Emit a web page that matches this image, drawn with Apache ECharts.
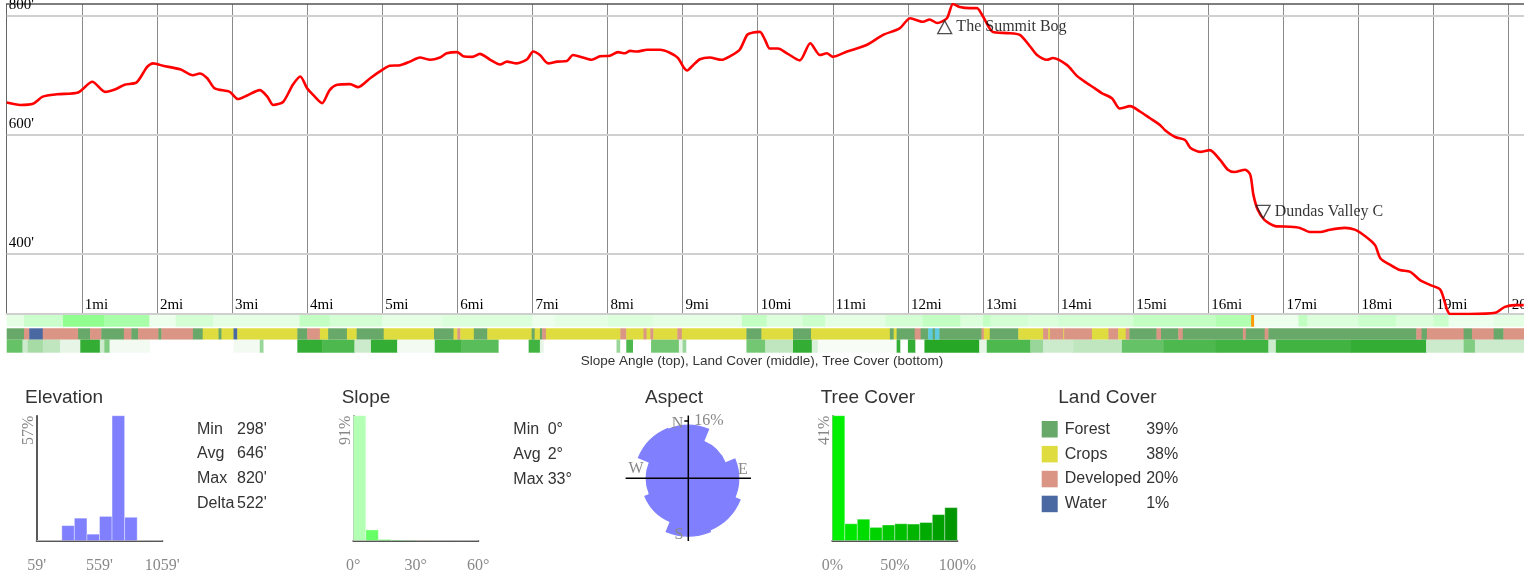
<!DOCTYPE html>
<html><head><meta charset="utf-8">
<script src="https://cdn.jsdelivr.net/npm/echarts@6/dist/echarts.min.js"></script>
<style>html,body{margin:0;padding:0;background:#fff;overflow:hidden}#c{width:1524px;height:576px}</style>
</head><body><div id="c"></div>
<script>
// ---------------- DATA ----------------
const elevMiles = [0.00,0.18,0.35,0.48,0.67,0.95,1.14,1.31,1.44,1.57,1.73,1.87,1.95,2.08,2.31,2.48,2.57,2.67,2.77,2.97,3.08,3.20,3.37,3.47,3.55,3.68,3.81,3.91,4.00,4.08,4.20,4.30,4.40,4.57,4.68,4.84,5.00,5.10,5.24,5.37,5.50,5.64,5.77,5.86,6.00,6.08,6.20,6.30,6.44,6.57,6.66,6.79,6.93,7.01,7.10,7.21,7.33,7.46,7.54,7.67,7.79,7.90,8.03,8.14,8.23,8.30,8.39,8.53,8.70,8.83,8.94,9.01,9.06,9.14,9.23,9.36,9.52,9.63,9.76,9.86,9.94,10.03,10.10,10.16,10.27,10.39,10.56,10.70,10.83,10.92,11.00,11.19,11.45,11.67,11.89,12.03,12.20,12.29,12.39,12.52,12.60,12.69,12.83,12.92,13.00,13.13,13.32,13.49,13.63,13.72,13.85,13.93,14.12,14.25,14.38,14.49,14.58,14.72,14.82,14.96,15.09,15.22,15.36,15.42,15.56,15.69,15.76,15.89,16.02,16.16,16.26,16.35,16.49,16.56,16.60,16.66,16.75,16.89,17.09,17.22,17.35,17.49,17.62,17.82,17.95,18.09,18.22,18.29,18.42,18.55,18.69,18.82,18.95,19.09,19.18,19.22,19.48,19.82,19.95,20.08,20.20];
const elevFeet = [654,650,652,664,668,671,689,672,676,684,688,714,720,716,710,700,703,695,678,672,660,666,675,664,650,655,684,698,678,667,653,675,684,685,680,695,709,716,717,723,730,726,730,737,739,732,731,736,726,718,723,720,727,740,734,720,723,724,734,730,726,732,733,739,737,741,740,743,743,738,729,714,708,717,727,730,726,732,743,768,772,773,759,745,745,737,725,754,734,737,731,740,751,768,779,796,790,794,788,796,820,815,813,813,799,773,771,768,748,734,726,729,717,699,687,678,670,661,644,648,639,628,616,608,596,591,578,571,574,557,541,537,541,532,499,473,456,446,445,443,436,436,440,443,440,429,414,392,381,372,369,355,347,339,305,298,298,300,310,313,313];
const elevTicks = [400,600,800];
const mileTicks = [1,2,3,4,5,6,7,8,9,10,11,12,13,14,15,16,17,18,19,20];

const waypointNames = ['The Summit Bog','Dundas Valley C'];
const waypointMiles = [12.49,16.73];
const waypointFeet = [781,470];
const waypointUp = [true,false];

// land cover strip: [startMile, endMile, classIndex]
const landClasses = ['Forest','Crops','Developed','Water','Wetlands'];
const landPct = [39,38,20,1];
const landSegments = [[0,0.23,0],[0.23,0.30,2],[0.30,0.48,3],[0.48,0.95,2],[0.95,1.11,0],[1.11,1.26,2],[1.26,1.56,0],[1.56,1.66,2],[1.66,1.75,0],[1.75,2.02,2],[2.02,2.06,0],[2.06,2.48,2],[2.48,2.61,0],[2.61,2.82,1],[2.82,2.86,0],[2.86,3.02,1],[3.02,3.07,3],[3.07,3.87,1],[3.87,4.00,0],[4.00,4.17,2],[4.17,4.28,1],[4.28,4.53,0],[4.53,4.66,1],[4.66,5.02,0],[5.02,5.69,1],[5.69,5.95,0],[5.95,6.00,1],[6.00,6.04,2],[6.04,6.22,1],[6.22,6.40,0],[6.40,6.99,1],[6.99,7.03,0],[7.03,7.10,1],[7.10,7.13,0],[7.13,7.18,2],[7.18,8.17,1],[8.17,8.25,2],[8.25,8.48,1],[8.48,8.52,2],[8.52,8.57,1],[8.57,8.61,2],[8.61,8.93,1],[8.93,8.99,2],[8.99,9.85,1],[9.85,10.05,0],[10.05,10.47,1],[10.47,10.71,0],[10.71,11.76,1],[11.76,11.81,0],[11.81,11.85,1],[11.85,12.09,0],[12.09,12.17,2],[12.17,12.27,0],[12.27,12.33,4],[12.33,12.36,0],[12.36,12.42,4],[12.42,12.98,0],[12.98,13.01,2],[13.01,13.09,1],[13.09,13.47,0],[13.47,13.80,1],[13.80,13.87,2],[13.87,13.89,1],[13.89,14.07,2],[14.07,14.08,1],[14.08,14.45,2],[14.45,14.67,1],[14.67,14.80,2],[14.80,14.90,1],[14.90,14.95,2],[14.95,15.31,0],[15.31,15.37,2],[15.37,15.60,0],[15.60,15.66,2],[15.66,16.46,0],[16.46,16.50,2],[16.50,16.75,0],[16.75,16.80,2],[16.80,18.77,0],[18.77,18.84,2],[18.84,18.91,0],[18.91,19.40,2],[19.40,19.51,0],[19.51,19.80,2],[19.80,19.93,0],[19.93,20.5,2]];

// slope strip: [startMile, endMile, degrees]
const slopeSegments = [[0,0.23,1],[0.23,0.75,2.5],[0.75,1.30,6],[1.30,1.90,4.5],[1.90,2.25,0.5],[2.25,2.75,2],[2.75,3.90,1],[3.90,4.30,3],[4.30,5.00,2],[5.00,5.80,1],[5.80,7.00,1.5],[7.00,7.30,0.5],[7.30,8.00,1],[8.00,8.60,1.5],[8.60,9.79,1],[9.79,10.12,3],[10.12,10.60,1.5],[10.60,10.90,2.5],[10.90,11.70,1],[11.70,12.20,2],[12.20,12.70,3],[12.70,13.00,1.5],[13.00,13.10,3],[13.10,13.60,2],[13.60,14.00,1.5],[14.00,15.00,2],[15.00,16.10,3],[16.10,16.57,4],[16.57,16.61,33],[16.61,17.20,0.5],[17.20,17.32,3],[17.32,18.00,1.5],[18.00,18.50,2.5],[18.50,19.00,1.5],[19.00,19.20,2.5],[19.20,19.80,0.5],[19.80,20.5,1]];

// tree cover strip: [startMile, endMile, percent]
const treeSegments = [[0,0.21,60],[0.21,0.28,20],[0.28,0.48,35],[0.48,0.71,25],[0.71,0.98,10],[0.98,1.24,80],[1.24,1.30,20],[1.30,1.37,50],[1.37,1.91,5],[1.91,3.02,0],[3.02,3.37,5],[3.37,3.42,40],[3.42,3.87,0],[3.87,4.20,80],[4.20,4.63,70],[4.63,4.85,20],[4.85,5.20,80],[5.20,5.70,5],[5.70,6.05,75],[6.05,6.55,65],[6.55,6.95,0],[6.95,7.10,75],[7.10,7.15,10],[7.15,8.12,0],[8.12,8.17,40],[8.17,8.25,0],[8.25,8.34,70],[8.34,8.58,0],[8.58,8.95,55],[8.95,9.00,10],[9.00,9.05,40],[9.05,9.85,0],[9.85,10.10,55],[10.10,10.47,25],[10.47,10.72,80],[10.72,10.80,15],[10.80,11.85,3],[11.85,11.90,80],[11.90,12.00,0],[12.00,12.10,80],[12.10,12.22,0],[12.22,12.95,85],[12.95,13.05,10],[13.05,13.63,70],[13.63,13.80,40],[13.80,14.20,20],[14.20,14.85,25],[14.85,15.40,60],[15.40,16.10,70],[16.10,16.80,75],[16.80,16.90,20],[16.90,17.90,75],[17.90,18.90,80],[18.90,19.40,20],[19.40,19.55,50],[19.55,20.5,20]];

// histograms
const elevBinStart = [59,159,259,359,459,559,659,759,859,959];
const elevBinEnd   = [159,259,359,459,559,659,759,859,959,1059];
const elevBinPct   = [0,0,6.8,10.2,2.9,11.0,57,10.6,0,0];
const elevHistTicks = [59,559,1059];
const elevHistMax = 57;
const elevStats = [['Min',"298'"],['Avg',"646'"],['Max',"820'"],['Delta',"522'"]];

const slopeBinStart = [0,6,12,18,24,30,36,42,48,54];
const slopeBinEnd   = [6,12,18,24,30,36,42,48,54,60];
const slopeBinPct   = [91,7.7,0.6,0.3,0.2,0.1,0,0,0,0];
const slopeHistTicks = [0,30,60];
const slopeHistMax = 91;
const slopeStats = [['Min','0°'],['Avg','2°'],['Max','33°']];

const aspectDirs = ['N','NE','E','SE','S','SW','W','NW'];
const aspectPct  = [13.5,7.7,12.2,15.1,16,10.6,8.5,14.0];
const aspectMaxLabel = 16;
const compassLabels = ['N','E','S','W'];

const treeBinStart = [0,10,20,30,40,50,60,70,80,90];
const treeBinEnd   = [10,20,30,40,50,60,70,80,90,100];
const treeBinPct   = [41,5.5,7,4.3,5.1,5.5,5.4,5.9,8.5,10.8];
const treeHistTicks = [0,50,100];
const treeHistMax = 41;

const caption = 'Slope Angle (top), Land Cover (middle), Tree Cover (bottom)';
const panelTitles = ['Elevation','Slope','Aspect','Tree Cover','Land Cover'];

// ---------------- STYLE ----------------
const SERIF = "'Liberation Serif','Times New Roman',serif";
const SANS = "'Liberation Sans',Arial,sans-serif";
const landColors = ['#68a868','#dedc3e','#da9584','#4a68a2','#5ccbe0'];
const X0 = 6.7, PXMI = 75.1, XMAX = 20.5, GW = PXMI * XMAX;

function hexToRgb(h){h=h.replace('#','');return [parseInt(h.substr(0,2),16),parseInt(h.substr(2,2),16),parseInt(h.substr(4,2),16)];}
function mix(a,b,t){const A=hexToRgb(a),B=hexToRgb(b);return 'rgb('+A.map((v,i)=>Math.round(v+(B[i]-v)*t)).join(',')+')';}
function slopeColor(v){return v>=20?'#ff9a00':mix('#ffffff','#66ff66',Math.min(0.06+v/9,1));}
function treeColor(v){return mix('#ffffff','#009900',Math.min(v/100,1));}

function stripRender(colorFn){
  return function(params, api){
    const a = api.coord([api.value(0), 0]);
    const b = api.coord([api.value(1), 1]);
    return {type:'rect', shape:{x:a[0], y:b[1], width:b[0]-a[0]+0.4, height:a[1]-b[1]}, style:{fill:colorFn(api.value(2))}};
  };
}
function histRender(colors){
  return function(params, api){
    const a = api.coord([api.value(0), 0]);
    const b = api.coord([api.value(1), api.value(2)]);
    return {type:'rect', shape:{x:a[0], y:b[1], width:b[0]-a[0], height:a[1]-b[1]},
      style:{fill:colors[params.dataIndex], stroke:'rgba(255,255,255,0.35)', lineWidth:1}};
  };
}
const treeHistColors = treeBinStart.map((s,i)=>'rgb(0,'+(240-i*10)+',0)');
const slopeHistColors = ['#b3ffb3','#66ff66','#22ee22','#00cc00','#00aa00','#ff9a00','#ff6600','#ff3300','#ff0000','#cc0000'];
const elevHistColors = elevBinStart.map(()=> '#8080ff');

const hiddenX = (g)=>({gridIndex:g, type:'value', min:0, max:XMAX, show:false});
const hiddenY = (g)=>({gridIndex:g, type:'value', min:0, max:1, show:false});
function histX(g, mn, mx, ticks, fmt){
  return {gridIndex:g, type:'value', min:mn, max:mx,
    axisLine:{show:true, onZero:false, lineStyle:{color:'#555', width:2}}, axisTick:{show:false}, splitLine:{show:false},
    axisLabel:{customValues:ticks, formatter:fmt, color:'#888', fontFamily:SERIF, fontSize:16, margin:17, hideOverlap:false}};
}
function histY(g, mx){
  return {gridIndex:g, type:'value', min:0, max:mx,
    axisLine:{show:true, onZero:false, lineStyle:{color:'#222', width:1.5}}, axisTick:{show:false}, splitLine:{show:false},
    axisLabel:{customValues:[mx], rotate:90, formatter:'{value}%', align:'right', verticalAlign:'bottom', margin:0, color:'#888', fontFamily:SERIF, fontSize:16}};
}

const titlePos = [[25,388],[341.7,388],[645,388],[820.7,388],[1058.3,388]];
const titles = panelTitles.map((t,i)=>({text:t, left:titlePos[i][0], top:titlePos[i][1], padding:0,
  textStyle:{fontSize:19, fontWeight:'normal', color:'#333', fontFamily:SANS}}));
titles.push({text:caption, left:'center', top:354, padding:0, textStyle:{fontSize:13.5, fontWeight:'normal', color:'#333', fontFamily:SANS}});

const graphics = [];
elevStats.forEach((r,i)=>{
  graphics.push({type:'text', x:197, y:429.3+i*24.7, style:{text:r[0], font:'16px '+SANS, fill:'#333', textVerticalAlign:'middle', verticalAlign:'middle'}});
  graphics.push({type:'text', x:237, y:429.3+i*24.7, style:{text:r[1], font:'16px '+SANS, fill:'#333', textVerticalAlign:'middle', verticalAlign:'middle'}});
});
slopeStats.forEach((r,i)=>{
  graphics.push({type:'text', x:513.3, y:429.8+i*24.7, style:{text:r[0], font:'16px '+SANS, fill:'#333', textVerticalAlign:'middle', verticalAlign:'middle'}});
  graphics.push({type:'text', x:547.7, y:429.8+i*24.7, style:{text:r[1], font:'16px '+SANS, fill:'#333', textVerticalAlign:'middle', verticalAlign:'middle'}});
});
const compassPos = [[677.5,423.3],[743,470],[679,535],[636,469]];
compassLabels.forEach((t,i)=>{
  graphics.push({type:'text', x:compassPos[i][0], y:compassPos[i][1], z:100, style:{text:t, font:'16px '+SERIF, fill:'#888', textAlign:'center', align:'center', textVerticalAlign:'middle', verticalAlign:'middle'}});
});

const aspectRmax = Math.sqrt(aspectMaxLabel) * 62.7 / 57.7;

const option = {
  animation:false,
  backgroundColor:'#fff',
  title: titles,
  graphic: {elements: graphics},
  legend: {
    data: landClasses.slice(0,4), orient:'vertical', left:1041.7, top:421, padding:0,
    itemWidth:16, itemHeight:16.5, itemGap:8.4, icon:'rect', selectedMode:false,
    formatter: name => '{n|'+name+'}{p|'+landPct[landClasses.indexOf(name)]+'%}',
    textStyle:{fontSize:16, color:'#333', fontFamily:SANS, padding:[0,0,0,2],
      rich:{n:{width:81.5, fontSize:16, color:'#333', fontFamily:SANS}, p:{fontSize:16, color:'#333', fontFamily:SANS}}}
  },
  grid: [
    {left:X0, top:4, width:GW, height:310, containLabel:false, outerBoundsMode:'none'},
    {left:X0, top:315, width:GW, height:11.7, containLabel:false, outerBoundsMode:'none'},
    {left:X0, top:328.3, width:GW, height:11.4, containLabel:false, outerBoundsMode:'none'},
    {left:X0, top:339.7, width:GW, height:13, containLabel:false, outerBoundsMode:'none'},
    {left:36.7, top:415.7, width:125.6, height:124.8, containLabel:false, outerBoundsMode:'none'},
    {left:353.3, top:415.7, width:125, height:124.8, containLabel:false, outerBoundsMode:'none'},
    {left:832.3, top:415.7, width:125, height:124.8, containLabel:false, outerBoundsMode:'none'}
  ],
  polar: [
    {center:[688.3,478.3], radius:62.7},
    {center:[688.3,478.3], radius:62.7}
  ],
  angleAxis: [
    {polarIndex:0, type:'category', data:aspectDirs, startAngle:112.5, boundaryGap:true,
      axisLine:{show:false}, axisTick:{show:false}, axisLabel:{show:false}, splitLine:{show:false}, splitArea:{show:false}},
    {polarIndex:1, type:'value', min:0, max:360, interval:90, startAngle:90, z:10,
      axisLine:{show:false}, axisTick:{show:false}, axisLabel:{show:false}, splitArea:{show:false},
      splitLine:{show:true, lineStyle:{color:'#000', width:1.5}}}
  ],
  radiusAxis: [
    {polarIndex:0, type:'value', min:0, max:aspectRmax, show:false},
    {polarIndex:1, type:'value', min:0, max:aspectRmax, z:10,
      axisLine:{show:false}, splitLine:{show:false}, splitArea:{show:false},
      axisTick:{show:true, customValues:[Math.sqrt(aspectMaxLabel)], length:4, lineStyle:{color:'#000', width:1.5}},
      axisLabel:{customValues:[Math.sqrt(aspectMaxLabel)], formatter: v => Math.round(v*v)+'%', align:'left', margin:-6, color:'#888', fontFamily:SERIF, fontSize:16}}
  ],
  xAxis: [
    {gridIndex:0, type:'value', min:0, max:XMAX, interval:1, position:'bottom',
      axisLine:{show:true, onZero:false, lineStyle:{color:'#cfcfcf', width:2}}, axisTick:{show:false},
      splitLine:{show:true, lineStyle:{color:'#8a8a8a', width:1}},
      axisLabel:{inside:true, align:'left', verticalAlign:'bottom', margin:1, padding:[0,0,0,3], hideOverlap:false,
        color:'#000', fontFamily:SERIF, fontSize:15, formatter: v => mileTicks.indexOf(v) >= 0 ? v+'mi' : ''}},
    {gridIndex:0, type:'value', min:0, max:XMAX, position:'top',
      axisLine:{show:true, onZero:false, lineStyle:{color:'#555', width:1.5}}, axisTick:{show:false}, axisLabel:{show:false}, splitLine:{show:false}},
    hiddenX(1), hiddenX(2), hiddenX(3),
    histX(4, 59, 1059, elevHistTicks, v => v+"'"),
    histX(5, 0, 60, slopeHistTicks, v => v+'°'),
    histX(6, 0, 100, treeHistTicks, v => v+'%')
  ],
  yAxis: [
    {gridIndex:0, type:'value', min:298, max:820,
      axisLine:{show:true, onZero:false, lineStyle:{color:'#666', width:1}}, axisTick:{show:false}, axisLabel:{show:false}, splitLine:{show:false}},
    hiddenY(1), hiddenY(2), hiddenY(3),
    histY(4, elevHistMax), histY(5, slopeHistMax), histY(6, treeHistMax)
  ],
  series: [
    {type:'line', name:'grid', xAxisIndex:0, yAxisIndex:0, data:[], silent:true, z:1,
      markLine:{silent:true, symbol:'none', z:1, animation:false,
        lineStyle:{color:'#d0d0d0', width:2, type:'solid'},
        label:{position:'insideStartTop', distance:[2,3], formatter: p => p.value+"'", color:'#000', fontFamily:SERIF, fontSize:15},
        data: elevTicks.map(v=>({yAxis:v}))}},
    {type:'line', name:'elevation', xAxisIndex:0, yAxisIndex:0, z:5,
      data: elevMiles.map((m,i)=>[m, elevFeet[i]]), smooth:0.25, showSymbol:false, symbol:'none',
      lineStyle:{color:'#ff0000', width:2.6}},
    {type:'scatter', name:'waypoints', xAxisIndex:0, yAxisIndex:0, z:6,
      data: waypointNames.map((n,i)=>({name:n, value:[waypointMiles[i], waypointFeet[i]], symbolRotate: waypointUp[i]?0:180})),
      symbol:'triangle', symbolSize:[14,13],
      itemStyle:{color:'rgba(255,255,255,0)', borderColor:'#222', borderWidth:1.3},
      label:{show:true, position:'right', distance:4, formatter:'{b}', color:'#000', fontFamily:SERIF, fontSize:16}},
    {type:'custom', name:'slope', xAxisIndex:2, yAxisIndex:1, data:slopeSegments, renderItem:stripRender(slopeColor), silent:true},
    {type:'custom', name:'land', xAxisIndex:3, yAxisIndex:2, data:landSegments, renderItem:stripRender(v=>landColors[v]), silent:true},
    {type:'custom', name:'tree', xAxisIndex:4, yAxisIndex:3, data:treeSegments, renderItem:stripRender(treeColor), silent:true},
    {type:'custom', name:'elevHist', xAxisIndex:5, yAxisIndex:4, data:elevBinStart.map((s,i)=>[s,elevBinEnd[i],elevBinPct[i]]), renderItem:histRender(elevHistColors), silent:true},
    {type:'custom', name:'slopeHist', xAxisIndex:6, yAxisIndex:5, data:slopeBinStart.map((s,i)=>[s,slopeBinEnd[i],slopeBinPct[i]]), renderItem:histRender(slopeHistColors), silent:true},
    {type:'custom', name:'treeHist', xAxisIndex:7, yAxisIndex:6, data:treeBinStart.map((s,i)=>[s,treeBinEnd[i],treeBinPct[i]]), renderItem:histRender(treeHistColors), silent:true},
    {type:'bar', name:'aspect', coordinateSystem:'polar', polarIndex:0, data: aspectPct.map(p=>Math.sqrt(p)),
      barCategoryGap:'0%', barWidth:'100%', itemStyle:{color:'#8080ff', borderColor:'#8080ff', borderWidth:1.2, borderRadius:0}, z:2, silent:true},
    ...landClasses.slice(0,4).map((n,i)=>({type:'bar', name:n, xAxisIndex:0, yAxisIndex:0, data:[], itemStyle:{color:landColors[i]}}))
  ]
};

const chart = echarts.init(document.getElementById('c'), null, {renderer:'canvas', width:1524, height:576});
chart.setOption(option);
</script>
</body></html>
